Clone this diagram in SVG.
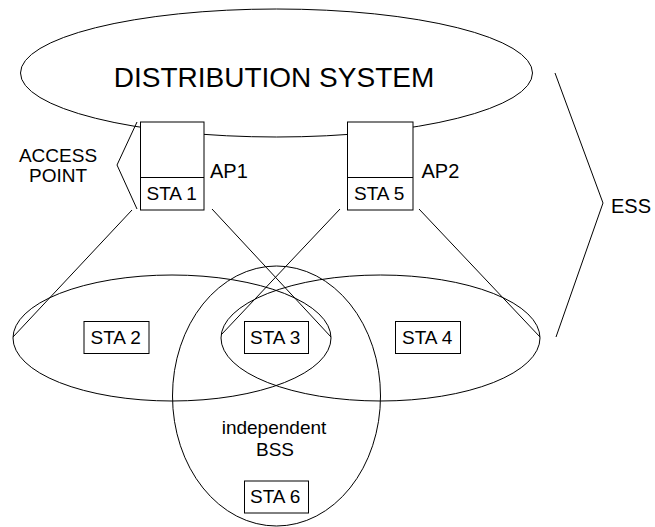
<svg xmlns="http://www.w3.org/2000/svg" width="655" height="527" viewBox="0 0 655 527">
<style>
.s{fill:none;stroke:#000;stroke-width:1}
.b{fill:#fff;stroke:#000;stroke-width:1}
text{font-family:"Liberation Sans",Arial,sans-serif;fill:#000}
.m{text-anchor:middle}
</style>
<rect width="655" height="527" fill="#fff"/>
<g id="ds">
<ellipse class="s" cx="276.5" cy="73" rx="256" ry="64"/>
<text class="m" x="274" y="87" font-size="28">DISTRIBUTION SYSTEM</text>
</g>
<g id="bss-left"><ellipse class="s" cx="172" cy="338" rx="159" ry="63"/></g>
<g id="bss-right"><ellipse class="s" cx="380.5" cy="338" rx="159.5" ry="63"/></g>
<g id="ibss">
<ellipse class="s" cx="276.5" cy="396" rx="104" ry="130"/>
<text class="m" x="274" y="434" font-size="19">independent</text>
<text class="m" x="275" y="456" font-size="19">BSS</text>
</g>
<g id="connectors">
<polyline class="s" points="132,210 13,337"/>
<polyline class="s" points="212,209 331,337"/>
<polyline class="s" points="340,209 221,335"/>
<polyline class="s" points="419,209 540,337"/>
<polyline class="s" points="137,122 117,165 137,209"/>
<polyline class="s" points="555,73 603,203 556,337"/>
</g>
<g id="ap1">
<rect class="b" x="140.5" y="122" width="63.5" height="88"/>
<line class="s" x1="140.5" y1="177.5" x2="204" y2="177.5"/>
<text x="146.5" y="200" font-size="19">STA 1</text>
<text x="210" y="178" font-size="20">AP1</text>
</g>
<g id="ap2">
<rect class="b" x="347.5" y="122" width="65.5" height="88"/>
<line class="s" x1="347.5" y1="177.5" x2="413" y2="177.5"/>
<text x="354" y="200" font-size="19">STA 5</text>
<text x="421.5" y="178" font-size="20">AP2</text>
</g>
<g id="access-point-label">
<text class="m" x="58" y="162" font-size="19">ACCESS</text>
<text class="m" x="58" y="182" font-size="19">POINT</text>
</g>
<g id="ess-label"><text x="611" y="213" font-size="20">ESS</text></g>
<g id="sta2"><rect class="b" x="84" y="321.5" width="65" height="32"/><text x="90.5" y="344" font-size="19">STA 2</text></g>
<g id="sta3"><rect class="b" x="244.5" y="321.5" width="64" height="32"/><text x="250" y="344" font-size="19">STA 3</text></g>
<g id="sta4"><rect class="b" x="395.5" y="321.5" width="65" height="32"/><text x="402" y="344" font-size="19">STA 4</text></g>
<g id="sta6"><rect class="b" x="244.5" y="481" width="64" height="32"/><text x="250" y="503" font-size="19">STA 6</text></g>
</svg>
